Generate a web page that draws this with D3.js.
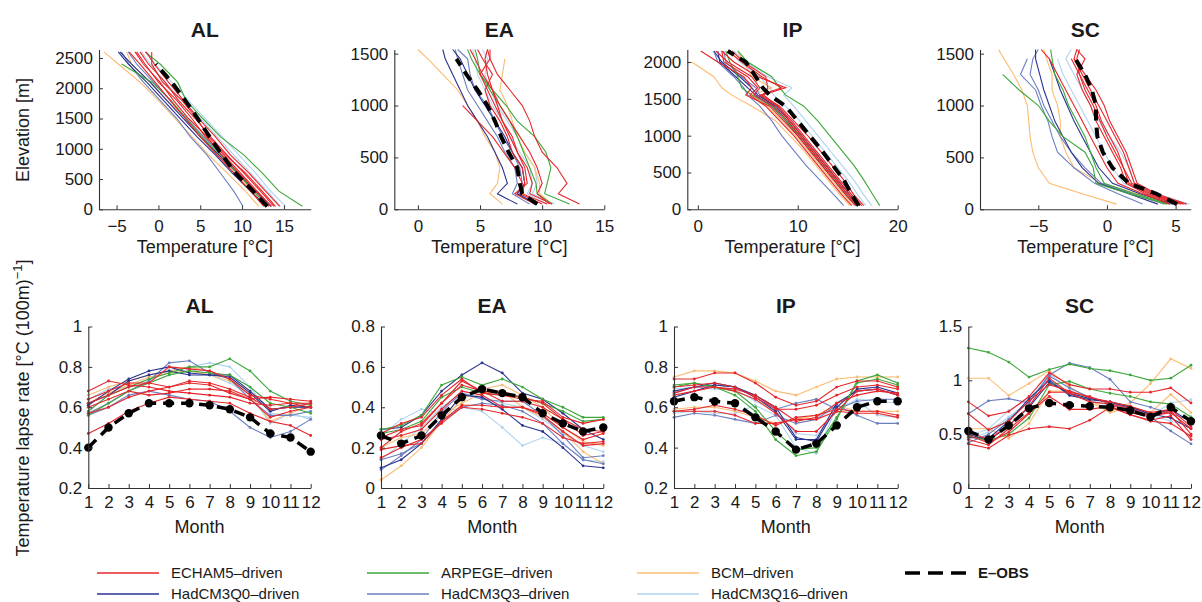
<!DOCTYPE html>
<html>
<head>
<meta charset="utf-8">
<script src="https://cdn.jsdelivr.net/npm/d3@7"></script>
<style>
  body { margin: 0; background: #fff; }
  text { font-family: "Liberation Sans", Arial, Helvetica, sans-serif; fill: #1a1a1a; }
</style>
</head>
<body>
<svg width="1202" height="602"></svg>
<script>
// driving GCM of each RCM run (same run order in every panel)
var runModel = ["ECHAM5","ECHAM5","ECHAM5","ECHAM5","ECHAM5","ECHAM5",
                "ARPEGE","ARPEGE","BCM","BCM","HadCM3Q0","HadCM3Q0",
                "HadCM3Q3","HadCM3Q3","HadCM3Q16","HadCM3Q16"];
var months = [1,2,3,4,5,6,7,8,9,10,11,12];

// ---- mean temperature profiles (deg C) per elevation band (m)
var elevAL = [50, 300, 600, 900, 1200, 1500, 1800, 2100, 2400, 2600];
var tempAL = [
  [14.5, 12.8, 10.8, 8.6, 6.8, 4.8, 3.0, 1.2, -0.5, -1.5],
  [13.8, 12.2, 10.2, 8.2, 6.2, 4.4, 2.4, 0.8, -1.2, -2.2],
  [13.2, 11.6, 9.6, 7.5, 5.8, 3.6, 1.8, 0.2, -1.8, -2.8],
  [14.0, 12.4, 10.4, 8.0, 6.0, 4.6, 2.8, 0.5, -0.8, -0.8],
  [12.6, 11.0, 9.0, 7.0, 5.0, 3.2, 1.4, -0.4, -2.2, -3.5],
  [13.5, 11.8, 9.8, 7.8, 5.6, 4.0, 2.2, 0.0, -1.6, -2.6],
  [17.2, 14.4, 12.4, 10.2, 7.4, 5.3, 3.3, 2.3, 0.2, -1.6],
  [13.0, 11.4, 9.4, 7.4, 5.2, 3.3, 1.5, -0.8, -4.4, null],
  [12.0, 10.4, 8.2, 6.0, 4.0, 2.0, 0.0, -2.2, -4.8, -6.5],
  [12.8, 11.2, 9.2, 7.0, 5.0, 3.4, 1.0, -1.0, -3.2, -3.8],
  [13.5, 11.6, 9.4, 7.2, 5.0, 3.0, 1.0, -1.0, -3.2, -4.6],
  [12.9, 11.0, 8.8, 6.8, 4.6, 2.6, 0.6, -1.4, -3.6, -4.8],
  [10.1, 9.0, 7.4, 5.8, 3.8, 2.2, 0.2, -1.8, -3.5, -4.4],
  [13.4, 11.6, 9.6, 7.6, 5.4, 3.4, 1.4, -0.6, -2.6, -3.6],
  [15.2, 13.4, 11.6, 9.6, 7.6, 5.6, 3.6, 1.6, -0.4, -1.4],
  [14.6, 13.0, 11.0, 9.0, 7.0, 5.0, 2.8, 0.8, -1.0, -2.0]
];
var obsTempAL = [13.0, 11.3, 9.2, 7.6, 6.1, 4.7, 3.2, 1.6, -0.3, null];

var elevEA = [50, 150, 250, 400, 550, 700, 850, 1000, 1150, 1300, 1450, 1540];
var tempEA = [
  [13.0, 11.3, 12.0, 11.2, 10.0, 9.4, 9.0, 8.4, 7.4, 6.4, 5.8, 5.6],
  [10.8, 9.0, 9.2, 8.8, 8.0, 7.6, 6.8, 6.2, 5.6, 5.0, 5.8, 5.8],
  [10.4, 8.4, 8.6, 8.4, 7.6, 7.2, 6.6, 5.8, 5.4, 6.0, 5.2, 4.8],
  [10.0, 8.2, 8.4, 7.8, 6.9, 6.0, 4.8, 3.6, null, null, null, null],
  [9.4, 7.8, 8.8, 8.6, 8.0, 7.4, 6.8, 6.4, 6.0, 5.2, 4.6, 4.2],
  [10.6, 9.6, 10.0, 9.6, 9.0, 8.2, 7.4, 6.6, 6.0, 5.6, 5.4, 5.6],
  [12.2, 10.2, 10.4, 10.7, 10.3, 9.4, 8.0, 7.1, 6.0, 5.0, 4.3, 4.0],
  [10.8, 9.6, 9.5, 9.0, 8.5, 8.0, 7.4, 6.6, 5.8, 5.0, 4.8, 4.6],
  [6.8, 5.8, 6.4, 6.6, 6.2, 5.4, 4.8, 4.0, 3.2, 2.0, 0.8, 0.0],
  [10.8, 9.8, 9.8, 9.4, 8.6, 8.0, 7.6, 7.2, 6.6, 6.8, 7.0, null],
  [8.0, 6.4, 7.2, 6.8, 6.2, 5.6, 4.8, 4.0, 3.4, 2.8, 2.2, 2.0],
  [9.6, 8.0, 8.6, 8.4, 7.6, 7.0, 6.2, 5.4, 4.6, 4.0, 3.4, 2.8],
  [9.0, 7.6, 8.0, 7.8, 7.0, 6.4, 5.6, 4.8, 4.0, 3.6, 3.2, 3.0],
  [9.4, 8.0, 8.4, 8.2, 7.6, 6.8, 6.2, 5.6, 4.6, 4.2, 4.0, 3.2],
  [11.0, 9.2, 9.6, 9.4, 8.6, 8.0, 7.2, 6.4, 5.8, 5.4, 5.6, 5.2],
  [10.4, 8.8, 9.2, 9.0, 8.2, 7.4, 6.8, 6.0, 5.4, 4.8, 4.6, 4.4]
];
var obsTempEA = [9.6, 8.4, 8.2, 8.0, 7.3, 6.7, 6.2, 5.6, 4.8, 3.9, 3.1, null];

var elevIP = [50, 200, 400, 600, 800, 1000, 1200, 1400, 1550, 1650, 1800, 2000, 2150];
var tempIP = [
  [16.6, 15.6, 14.6, 13.4, 12.2, 11.0, 9.6, 8.2, 6.4, 8.8, 6.0, 3.6, 2.4],
  [16.0, 15.0, 13.8, 12.6, 11.4, 10.2, 9.0, 7.6, 5.6, 6.2, 5.4, 3.0, 1.8],
  [15.8, 14.8, 13.6, 12.4, 11.2, 10.0, 8.6, 7.2, 4.8, 5.4, 4.6, 2.0, 0.3],
  [16.4, 15.4, 14.2, 13.0, 11.8, 10.6, 9.4, 8.0, 6.2, 8.4, 6.4, 4.4, 3.0],
  [15.4, 14.4, 13.2, 12.0, 10.8, 9.6, 8.2, 6.8, 5.2, 6.0, 5.0, 2.6, 2.4],
  [16.2, 15.2, 14.0, 12.8, 11.6, 10.4, 9.2, 8.0, 6.6, 7.0, 6.8, 4.6, 3.4],
  [18.2, 17.5, 16.6, 15.6, 14.4, 13.2, 12.0, 10.6, 8.8, 8.2, 7.4, 5.0, 4.0],
  [16.0, 15.0, 13.8, 12.6, 11.4, 10.2, 8.8, 7.4, 5.4, 4.4, 4.0, 3.2, 2.8],
  [15.2, 14.2, 13.0, 11.8, 10.6, 9.2, 7.8, 5.4, 3.4, 2.4, 1.6, -0.6, null],
  [15.6, 14.6, 13.4, 12.2, 11.0, 9.8, 8.4, 7.0, 5.4, 7.4, 5.4, 4.6, 4.0],
  [16.2, 15.2, 14.0, 12.8, 11.6, 10.4, 9.2, 7.8, 6.0, 5.4, 4.2, 2.4, 1.6],
  [15.8, 14.8, 13.6, 12.4, 11.2, 10.0, 8.8, 7.4, 5.8, 5.0, 3.8, 2.2, 2.0],
  [14.6, 13.6, 12.2, 10.8, 9.6, 8.4, 7.4, 6.2, 5.0, 4.6, 3.6, 2.0, 1.6],
  [16.0, 15.0, 13.8, 12.6, 11.4, 10.2, 9.0, 7.6, 6.2, 5.8, 4.4, 2.8, 2.6],
  [17.4, 16.6, 15.6, 14.4, 13.2, 12.0, 10.8, 9.6, 8.6, 9.4, 7.0, 4.8, 3.6],
  [16.8, 16.0, 15.0, 13.8, 12.6, 11.4, 10.2, 8.8, 7.6, 7.2, 6.2, 4.2, 3.2]
];
var obsTempIP = [16.1, 15.4, 14.6, 13.5, 12.4, 11.2, 10.0, 8.8, 7.2, 6.5, 5.8, 4.8, 3.0];

var elevSC = [50, 150, 250, 400, 550, 700, 850, 1000, 1150, 1300, 1450, 1540];
var tempSC = [
  [5.6, 3.4, 2.0, 1.6, 1.2, 0.6, 0.0, -0.6, -1.2, -1.8, -2.4, -2.2],
  [5.4, 3.2, 1.8, 1.2, 0.8, 0.2, -0.4, -0.8, -1.4, -2.0, -2.2, -2.0],
  [5.8, 3.6, 2.2, 1.8, 1.4, 0.8, 0.2, -0.2, -0.8, -1.6, -2.4, null],
  [5.2, 3.0, 1.6, 1.2, 0.6, 0.0, -0.5, -1.0, -1.6, -2.0, -2.6, null],
  [4.6, 2.6, 0.8, 0.0, -0.6, -1.2, -1.8, -2.4, -3.0, -3.6, -4.2, -4.8],
  [5.0, 2.8, 1.4, 1.0, 0.4, -0.2, -0.8, -1.2, -1.8, -2.2, -1.6, -2.2],
  [4.4, 1.6, -0.8, -1.0, -1.6, -3.2, -4.2, -5.0, -6.4, -7.6, null, null],
  [4.6, 2.0, -0.2, -0.8, -1.2, -1.6, -2.2, -2.8, -3.2, -3.8, -4.0, -4.1],
  [0.7, -1.8, -4.2, -5.0, -5.4, -5.6, -5.7, -5.8, -6.2, -6.8, -7.5, -7.9],
  [4.4, 2.2, -0.4, -2.4, -3.0, -3.4, -3.4, -3.6, -4.0, -4.0, -4.4, -4.6],
  [3.7, 1.6, -0.6, -1.8, -2.6, -3.2, -3.8, -4.2, -4.6, -4.9, -5.2, -5.2],
  [4.8, 2.4, 0.4, -0.6, -1.2, -1.8, -2.4, -2.9, -3.4, -3.8, -4.2, null],
  [2.6, 0.8, -0.9, -2.4, -3.6, -4.0, -4.3, -4.8, -5.2, -6.3, -5.8, null],
  [4.2, 1.8, -0.4, -1.6, -2.6, -3.4, -4.0, -4.6, -5.0, -5.6, -5.4, -5.0],
  [6.0, 3.6, 2.0, 1.6, 1.0, 0.2, -0.6, -1.2, -1.8, -2.4, -3.0, -2.6],
  [5.8, 3.2, 1.2, 0.4, -0.2, -0.8, -1.4, -2.0, -2.6, -3.2, -3.6, null]
];
var obsTempSC = [5.1, 3.6, 1.6, 0.4, -0.3, -0.7, -0.8, -0.8, -1.1, -1.6, -2.3, null];

// ---- monthly temperature lapse rates [deg C / 100 m]
var lapseAL = [
  [0.68, 0.73, 0.71, 0.70, 0.68, 0.67, 0.66, 0.65, 0.62, 0.61, 0.62, 0.60],
  [0.64, 0.68, 0.72, 0.72, 0.70, 0.72, 0.71, 0.67, 0.64, 0.65, 0.64, 0.63],
  [0.57, 0.60, 0.65, 0.68, 0.70, 0.73, 0.72, 0.69, 0.65, 0.59, 0.60, 0.62],
  [0.62, 0.66, 0.70, 0.72, 0.80, 0.79, 0.78, 0.74, 0.66, 0.64, 0.62, 0.62],
  [0.60, 0.64, 0.68, 0.66, 0.67, 0.69, 0.69, 0.68, 0.64, 0.55, 0.58, 0.60],
  [0.47, 0.52, 0.58, 0.62, 0.65, 0.64, 0.63, 0.62, 0.57, 0.53, 0.51, 0.46],
  [0.58, 0.66, 0.70, 0.74, 0.77, 0.80, 0.80, 0.84, 0.78, 0.68, 0.63, 0.61],
  [0.56, 0.62, 0.68, 0.72, 0.76, 0.78, 0.77, 0.76, 0.70, 0.62, 0.60, 0.57],
  [0.66, 0.70, 0.73, 0.76, 0.78, 0.80, 0.78, 0.74, 0.68, 0.59, 0.60, 0.60],
  [0.62, 0.67, 0.71, 0.75, 0.77, 0.78, 0.76, 0.73, 0.66, 0.53, 0.57, 0.61],
  [0.61, 0.68, 0.74, 0.78, 0.80, 0.77, 0.76, 0.75, 0.67, 0.58, 0.61, 0.60],
  [0.62, 0.66, 0.73, 0.76, 0.78, 0.76, 0.76, 0.76, 0.68, 0.59, 0.60, 0.60],
  [0.57, 0.62, 0.68, 0.73, 0.82, 0.83, 0.77, 0.74, 0.64, 0.56, 0.56, 0.58],
  [0.56, 0.60, 0.66, 0.68, 0.66, 0.64, 0.63, 0.58, 0.50, 0.45, 0.48, 0.54],
  [0.64, 0.69, 0.70, 0.74, 0.78, 0.80, 0.82, 0.80, 0.70, 0.57, 0.56, 0.55],
  [0.58, 0.66, 0.70, 0.72, 0.76, 0.79, 0.76, 0.72, 0.66, 0.52, 0.57, 0.54]
];
var obsLapseAL = [0.40, 0.50, 0.57, 0.62, 0.62, 0.62, 0.61, 0.59, 0.55, 0.47, 0.45, 0.38];

var lapseEA = [
  [0.27, 0.32, 0.35, 0.46, 0.54, 0.47, 0.46, 0.44, 0.43, 0.35, 0.32, 0.34],
  [0.20, 0.28, 0.32, 0.42, 0.51, 0.48, 0.43, 0.43, 0.40, 0.34, 0.26, 0.28],
  [0.24, 0.26, 0.29, 0.39, 0.48, 0.46, 0.40, 0.40, 0.37, 0.30, 0.24, 0.27],
  [0.19, 0.21, 0.22, 0.33, 0.41, 0.41, 0.40, 0.40, 0.36, 0.28, 0.21, 0.22],
  [0.25, 0.29, 0.31, 0.42, 0.53, 0.48, 0.47, 0.45, 0.42, 0.34, 0.29, 0.28],
  [0.15, 0.20, 0.24, 0.32, 0.40, 0.39, 0.37, 0.35, 0.32, 0.25, 0.22, 0.23],
  [0.29, 0.31, 0.36, 0.51, 0.55, 0.51, 0.54, 0.50, 0.44, 0.40, 0.35, 0.35],
  [0.27, 0.29, 0.33, 0.45, 0.50, 0.47, 0.46, 0.45, 0.42, 0.38, 0.33, 0.34],
  [0.04, 0.11, 0.20, 0.33, 0.44, 0.49, 0.51, 0.46, 0.40, 0.30, 0.23, 0.21],
  [0.20, 0.25, 0.27, 0.36, 0.42, 0.47, 0.48, 0.40, 0.35, 0.28, 0.18, 0.12],
  [0.29, 0.30, 0.36, 0.48, 0.56, 0.62, 0.57, 0.47, 0.44, 0.37, 0.29, 0.24],
  [0.10, 0.14, 0.22, 0.34, 0.46, 0.45, 0.39, 0.31, 0.28, 0.20, 0.11, 0.10],
  [0.09, 0.16, 0.24, 0.38, 0.47, 0.44, 0.43, 0.43, 0.36, 0.26, 0.15, 0.16],
  [0.14, 0.17, 0.22, 0.33, 0.40, 0.42, 0.41, 0.38, 0.32, 0.22, 0.14, 0.12],
  [0.26, 0.34, 0.39, 0.37, 0.40, 0.38, 0.30, 0.21, 0.25, 0.22, 0.14, 0.13],
  [0.14, 0.22, 0.30, 0.40, 0.47, 0.45, 0.42, 0.40, 0.34, 0.27, 0.21, 0.18]
];
var obsLapseEA = [0.26, 0.22, 0.26, 0.36, 0.45, 0.49, 0.47, 0.45, 0.37, 0.32, 0.28, 0.30];

var lapseIP = [
  [0.74, 0.74, 0.77, 0.77, 0.72, 0.65, 0.61, 0.63, 0.70, 0.73, 0.73, 0.70],
  [0.70, 0.71, 0.72, 0.70, 0.65, 0.59, 0.59, 0.61, 0.66, 0.70, 0.71, 0.69],
  [0.67, 0.70, 0.70, 0.68, 0.64, 0.57, 0.48, 0.48, 0.58, 0.68, 0.69, 0.66],
  [0.58, 0.59, 0.61, 0.59, 0.56, 0.51, 0.55, 0.56, 0.59, 0.58, 0.58, 0.56],
  [0.58, 0.58, 0.58, 0.56, 0.52, 0.52, 0.54, 0.54, 0.58, 0.57, 0.57, 0.55],
  [0.66, 0.68, 0.70, 0.69, 0.66, 0.60, 0.53, 0.55, 0.62, 0.66, 0.68, 0.67],
  [0.71, 0.72, 0.70, 0.66, 0.58, 0.44, 0.36, 0.38, 0.54, 0.73, 0.76, 0.72],
  [0.70, 0.72, 0.70, 0.68, 0.60, 0.48, 0.39, 0.40, 0.55, 0.72, 0.74, 0.71],
  [0.75, 0.78, 0.78, 0.77, 0.73, 0.68, 0.66, 0.70, 0.74, 0.75, 0.75, 0.75],
  [0.59, 0.60, 0.60, 0.58, 0.55, 0.52, 0.54, 0.56, 0.61, 0.58, 0.58, 0.58],
  [0.68, 0.70, 0.72, 0.70, 0.66, 0.60, 0.45, 0.43, 0.60, 0.69, 0.70, 0.67],
  [0.65, 0.68, 0.71, 0.70, 0.65, 0.58, 0.44, 0.44, 0.62, 0.68, 0.69, 0.66],
  [0.55, 0.57, 0.56, 0.54, 0.52, 0.56, 0.52, 0.54, 0.61, 0.56, 0.52, 0.52],
  [0.67, 0.70, 0.71, 0.70, 0.66, 0.59, 0.62, 0.64, 0.59, 0.63, 0.64, 0.64],
  [0.57, 0.58, 0.57, 0.57, 0.61, 0.56, 0.40, 0.37, 0.60, 0.63, 0.56, 0.55],
  [0.69, 0.70, 0.69, 0.69, 0.63, 0.58, 0.47, 0.46, 0.58, 0.64, 0.63, 0.62]
];
var obsLapseIP = [0.63, 0.65, 0.63, 0.62, 0.55, 0.48, 0.39, 0.42, 0.51, 0.60, 0.63, 0.63];

var lapseSC = [
  [0.80, 0.67, 0.71, 0.85, 1.07, 0.96, 0.92, 0.92, 0.89, 0.89, 0.93, 0.79],
  [0.69, 0.54, 0.62, 0.81, 0.96, 0.90, 0.84, 0.80, 0.76, 0.70, 0.73, 0.57],
  [0.49, 0.42, 0.52, 0.69, 0.89, 0.89, 0.85, 0.78, 0.70, 0.66, 0.72, 0.50],
  [0.45, 0.40, 0.55, 0.70, 0.85, 0.73, 0.73, 0.76, 0.68, 0.63, 0.67, 0.45],
  [0.52, 0.45, 0.58, 0.76, 1.02, 0.88, 0.80, 0.78, 0.74, 0.67, 0.70, 0.55],
  [0.41, 0.37, 0.49, 0.55, 0.57, 0.55, 0.63, 0.75, 0.68, 0.62, 0.60, 0.48],
  [1.30, 1.26, 1.17, 1.03, 1.10, 1.15, 1.11, 1.09, 1.05, 1.00, 1.02, 1.14],
  [0.48, 0.44, 0.50, 0.65, 0.96, 0.99, 0.92, 0.88, 0.85, 0.80, 0.78, 0.66],
  [1.02, 1.02, 0.86, 0.97, 1.09, 0.94, 0.82, 0.71, 0.79, 0.97, 1.20, 1.11],
  [0.55, 0.55, 0.46, 0.60, 0.90, 0.90, 0.80, 0.70, 0.75, 0.70, 0.87, 0.70],
  [0.47, 0.46, 0.62, 0.83, 1.00, 0.86, 0.82, 0.80, 0.76, 0.68, 0.73, 0.61],
  [0.50, 0.44, 0.58, 0.75, 0.98, 0.88, 0.83, 0.80, 0.75, 0.69, 0.65, 0.55],
  [0.69, 0.81, 0.83, 0.79, 1.05, 1.16, 1.12, 1.01, 0.80, 0.75, 0.69, 0.63],
  [0.42, 0.50, 0.64, 0.80, 1.04, 0.93, 0.84, 0.79, 0.74, 0.66, 0.53, 0.41],
  [0.45, 0.52, 0.66, 0.80, 1.06, 0.92, 0.80, 0.78, 0.75, 0.67, 0.79, 0.82],
  [0.48, 0.55, 0.72, 0.83, 1.01, 0.87, 0.81, 0.77, 0.73, 0.68, 0.62, 0.58]
];
var obsLapseSC = [0.53, 0.45, 0.58, 0.74, 0.79, 0.77, 0.76, 0.75, 0.72, 0.66, 0.75, 0.62];

var modelColor = {
  "ECHAM5": "#e6262b", "ARPEGE": "#3da83a", "BCM": "#fbbc72",
  "HadCM3Q0": "#2a3390", "HadCM3Q3": "#6c7fc0", "HadCM3Q16": "#b0d4f0"
};
var drawRank = { "HadCM3Q16": 0, "BCM": 1, "HadCM3Q3": 2, "HadCM3Q0": 3, "ARPEGE": 4, "ECHAM5": 5 };

var svg = d3.select("svg");
var fmt = d3.format("");

// one set of axes: left + bottom, ticks pointing inward (matlab style)
function axes(g, x, y, p) {
  g.append("g")
    .attr("class", "axis")
    .attr("transform", "translate(0," + p.bottom + ")")
    .call(d3.axisBottom(x).tickValues(p.xTicks).tickFormat(fmt)
      .tickSizeInner(-4).tickSizeOuter(0).tickPadding(p.xPad));
  g.append("g")
    .attr("class", "axis")
    .attr("transform", "translate(" + p.left + ",0)")
    .call(d3.axisLeft(y).tickValues(p.yTicks).tickFormat(fmt)
      .tickSizeInner(-4).tickSizeOuter(0).tickPadding(6));
  g.selectAll(".axis path").attr("stroke", "#333").attr("stroke-width", 1.1);
  g.selectAll(".axis line").attr("stroke", "#333");
  g.selectAll(".axis text").attr("font-size", 17).attr("fill", "#1a1a1a")
    .attr("font-family", "Liberation Sans, Arial, sans-serif");

  g.append("text")
    .attr("x", (p.left + p.right) / 2).attr("y", p.titleY)
    .attr("text-anchor", "middle").attr("font-size", 21).attr("font-weight", "bold")
    .text(p.title);
  g.append("text")
    .attr("x", (p.left + p.right) / 2).attr("y", p.labelY)
    .attr("text-anchor", "middle").attr("font-size", 18)
    .text(p.xLabel);
}

function order() {
  return d3.range(runModel.length).sort(function(a, b) {
    return drawRank[runModel[a]] - drawRank[runModel[b]] || a - b;
  });
}

function profilePanel(p) {
  var x = d3.scaleLinear().domain(p.xDomain).range([p.left, p.right]);
  var y = d3.scaleLinear().domain(p.yDomain).range([p.bottom, p.top]);
  var g = svg.append("g");
  var line = d3.line()
    .defined(function(d) { return d[1] != null; })
    .x(function(d) { return x(d[1]); })
    .y(function(d) { return y(d[0]); });

  order().forEach(function(i) {
    g.append("path")
      .datum(d3.zip(p.elev, p.temps[i]))
      .attr("fill", "none")
      .attr("stroke", modelColor[runModel[i]])
      .attr("stroke-width", 1.1)
      .attr("d", line);
  });
  g.append("path")
    .datum(d3.zip(p.elev, p.obs))
    .attr("fill", "none").attr("stroke", "#000")
    .attr("stroke-width", 4).attr("stroke-dasharray", "11,7")
    .attr("d", line);
  axes(g, x, y, p);
}

function lapsePanel(p) {
  var x = d3.scaleLinear().domain([1, 12]).range([p.left, p.right]);
  var y = d3.scaleLinear().domain(p.yDomain).range([p.bottom, p.top]);
  var g = svg.append("g");
  var line = d3.line()
    .x(function(d) { return x(d[0]); })
    .y(function(d) { return y(d[1]); });

  order().forEach(function(i) {
    var c = modelColor[runModel[i]];
    var pts = d3.zip(months, p.rates[i]);
    g.append("path").datum(pts)
      .attr("fill", "none").attr("stroke", c).attr("stroke-width", 1.1)
      .attr("d", line);
    g.selectAll(null).data(pts).enter().append("circle")
      .attr("cx", function(d) { return x(d[0]); })
      .attr("cy", function(d) { return y(d[1]); })
      .attr("r", 1.4).attr("fill", c);
  });
  var obs = d3.zip(months, p.obs);
  g.append("path").datum(obs)
    .attr("fill", "none").attr("stroke", "#000")
    .attr("stroke-width", 3.5).attr("stroke-dasharray", "11,7")
    .attr("d", line);
  g.selectAll(null).data(obs).enter().append("circle")
    .attr("cx", function(d) { return x(d[0]); })
    .attr("cy", function(d) { return y(d[1]); })
    .attr("r", 4.2).attr("fill", "#000");
  axes(g, x, y, p);
}

var topRow = { top: 49.5, bottom: 209.3, titleY: 37, labelY: 253, xPad: 11, xLabel: "Temperature [\u00B0C]" };
var botRow = { top: 326.5, bottom: 488, titleY: 313, labelY: 533, xPad: 8, xLabel: "Month", xTicks: months };

profilePanel(Object.assign({}, topRow, { title: "AL", left: 99, right: 310.7,
  xDomain: [-7.1, 18.2], yDomain: [0, 2640], xTicks: [-5, 0, 5, 10, 15], yTicks: [0, 500, 1000, 1500, 2000, 2500],
  elev: elevAL, temps: tempAL, obs: obsTempAL }));
profilePanel(Object.assign({}, topRow, { title: "EA", left: 394.3, right: 604.3,
  xDomain: [-1.9, 15], yDomain: [0, 1540], xTicks: [0, 5, 10, 15], yTicks: [0, 500, 1000, 1500],
  elev: elevEA, temps: tempEA, obs: obsTempEA }));
profilePanel(Object.assign({}, topRow, { title: "IP", left: 687.3, right: 897.7,
  xDomain: [-1.05, 20], yDomain: [0, 2170], xTicks: [0, 10, 20], yTicks: [0, 500, 1000, 1500, 2000],
  elev: elevIP, temps: tempIP, obs: obsTempIP }));
profilePanel(Object.assign({}, topRow, { title: "SC", left: 980, right: 1190.7,
  xDomain: [-9.25, 6.1], yDomain: [0, 1540], xTicks: [-5, 0, 5], yTicks: [0, 500, 1000, 1500],
  elev: elevSC, temps: tempSC, obs: obsTempSC }));

lapsePanel(Object.assign({}, botRow, { title: "AL", left: 88.3, right: 310.7,
  yDomain: [0.2, 1], yTicks: [0.2, 0.4, 0.6, 0.8, 1], rates: lapseAL, obs: obsLapseAL }));
lapsePanel(Object.assign({}, botRow, { title: "EA", left: 381, right: 603.3,
  yDomain: [0, 0.8], yTicks: [0, 0.2, 0.4, 0.6, 0.8], rates: lapseEA, obs: obsLapseEA }));
lapsePanel(Object.assign({}, botRow, { title: "IP", left: 674, right: 897.7,
  yDomain: [0.2, 1], yTicks: [0.2, 0.4, 0.6, 0.8, 1], rates: lapseIP, obs: obsLapseIP }));
lapsePanel(Object.assign({}, botRow, { title: "SC", left: 968.3, right: 1191,
  yDomain: [0, 1.5], yTicks: [0, 0.5, 1, 1.5], rates: lapseSC, obs: obsLapseSC }));

// y axis titles
svg.append("text")
  .attr("transform", "translate(29,130) rotate(-90)")
  .attr("text-anchor", "middle").attr("font-size", 18)
  .text("Elevation [m]");
var yl = svg.append("text")
  .attr("transform", "translate(29,408) rotate(-90)")
  .attr("text-anchor", "middle").attr("font-size", 18);
yl.append("tspan").text("Temperature lapse rate [\u00B0C (100m)");
yl.append("tspan").attr("dy", -7).attr("font-size", 13).text("\u22121");
yl.append("tspan").attr("dy", 7).text("]");

// legend
var legendItems = [
  { label: "ECHAM5\u2013driven", model: "ECHAM5", x: 97, y: 573 },
  { label: "ARPEGE\u2013driven", model: "ARPEGE", x: 367, y: 573 },
  { label: "BCM\u2013driven", model: "BCM", x: 637, y: 573 },
  { label: "HadCM3Q0\u2013driven", model: "HadCM3Q0", x: 97, y: 594 },
  { label: "HadCM3Q3\u2013driven", model: "HadCM3Q3", x: 367, y: 594 },
  { label: "HadCM3Q16\u2013driven", model: "HadCM3Q16", x: 637, y: 594 }
];
var lg = svg.append("g");
legendItems.forEach(function(d) {
  lg.append("line").attr("x1", d.x).attr("x2", d.x + 62).attr("y1", d.y).attr("y2", d.y)
    .attr("stroke", modelColor[d.model]).attr("stroke-width", 1.3);
  lg.append("text").attr("x", d.x + 74).attr("y", d.y).attr("dy", "0.35em")
    .attr("font-size", 15).text(d.label);
});
lg.append("line").attr("x1", 905).attr("x2", 966).attr("y1", 573).attr("y2", 573)
  .attr("stroke", "#000").attr("stroke-width", 3.5).attr("stroke-dasharray", "15,8");
lg.append("text").attr("x", 978).attr("y", 573).attr("dy", "0.35em")
  .attr("font-size", 15).attr("font-weight", "bold").text("E\u2013OBS");
</script>
</body>
</html>
